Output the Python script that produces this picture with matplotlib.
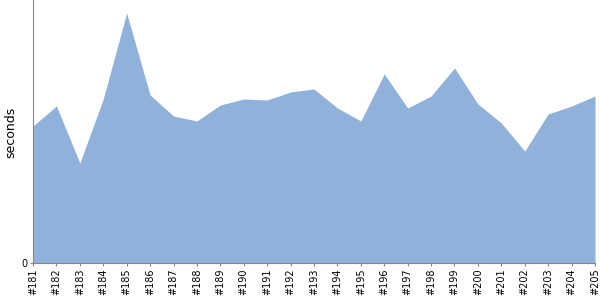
import matplotlib
matplotlib.use("Agg")
import matplotlib.pyplot as plt

builds = ["#%d" % n for n in range(181, 206)]
seconds = [137, 157, 100, 164, 250, 168, 147, 142, 158, 164, 163, 171, 174,
           155, 142, 189, 155, 167, 195, 159, 140, 112, 149, 157, 167]

fig = plt.figure(figsize=(6, 3), dpi=100)
ax = fig.add_axes([33/600, 37/300, 562/600, 263/300])
x = list(range(len(builds)))
ax.fill_between(x, seconds, 0, color="#8fb1da", linewidth=0)
ax.set_xlim(0, len(builds) - 1)
ax.set_ylim(0, 263)
ax.set_xticks(x)
ax.set_xticklabels(builds, rotation=90, fontsize=7)
ax.set_yticks([0])
ax.set_yticklabels(["0"], fontsize=7)
ax.set_ylabel("seconds", fontsize=9)
ax.yaxis.set_label_coords(-16/562, 131/263)
for s in ["top", "right"]:
    ax.spines[s].set_visible(False)
for s in ["left", "bottom"]:
    ax.spines[s].set_color("#888888")
ax.tick_params(axis="both", length=2, color="#888888", pad=2)
fig.savefig("out.png", dpi=100)
